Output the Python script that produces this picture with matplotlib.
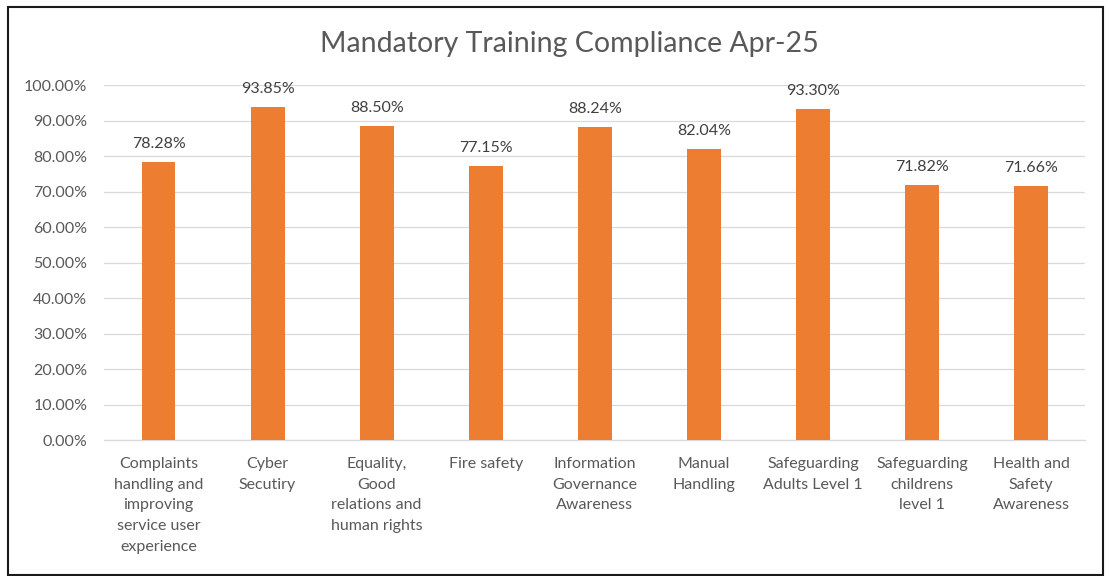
import matplotlib
matplotlib.use("Agg")
import matplotlib.pyplot as plt
from matplotlib.patches import Rectangle
from matplotlib.ticker import FuncFormatter

# =============================================================================
# DATA
# =============================================================================

categories = [
    "Complaints\nhandling and\nimproving\nservice user\nexperience",
    "Cyber\nSecutiry",
    "Equality,\nGood\nrelations and\nhuman rights",
    "Fire safety",
    "Information\nGovernance\nAwareness",
    "Manual\nHandling",
    "Safeguarding\nAdults Level 1",
    "Safeguarding\nchildrens\nlevel 1",
    "Health and\nSafety\nAwareness",
]
compliance = [0.7828, 0.9385, 0.8850, 0.7715, 0.8824, 0.8204, 0.9330, 0.7182, 0.7166]
yticks = [i / 10 for i in range(11)]

# =============================================================================
# STYLE
# =============================================================================

plt.rcParams["font.family"] = ["Lato", "DejaVu Sans"]
BAR_COLOR = "#ED7D31"
TEXT_COLOR = "#595959"
GRID_COLOR = "#D9D9D9"

fig = plt.figure(figsize=(11.09, 5.76), dpi=100)
ax = fig.add_axes([0.0938, 0.236, 0.885, 0.616])

x = list(range(len(categories)))
ax.bar(x, compliance, width=0.31, color=BAR_COLOR, zorder=3)

for xi, v in zip(x, compliance):
    ax.annotate(f"{v:.2%}", (xi, v), xytext=(0, 8), textcoords="offset points",
                ha="center", va="bottom", fontsize=11.5, color="#404040")

ax.set_xlim(-0.5, len(categories) - 0.5)
ax.set_ylim(0, 1.0)
ax.set_yticks(yticks)
ax.yaxis.set_major_formatter(FuncFormatter(lambda v, _: f"{v:.2%}"))
ax.set_xticks(x)
ax.set_xticklabels(categories, fontsize=11.5, color=TEXT_COLOR, linespacing=1.62, va="top")
ax.tick_params(axis="y", labelsize=11.5, labelcolor=TEXT_COLOR, length=0, pad=12)
ax.tick_params(axis="x", length=0, pad=12)

ax.grid(axis="y", color=GRID_COLOR, linewidth=0.9, zorder=0)
for side in ["top", "right", "left"]:
    ax.spines[side].set_visible(False)
ax.spines["bottom"].set_color(GRID_COLOR)
ax.spines["bottom"].set_linewidth(0.9)

fig.text(0.513, 0.923, "Mandatory Training Compliance Apr-25", ha="center", va="center",
         fontsize=20.5, color=TEXT_COLOR)

# chart frame
fig.patches.append(Rectangle((8 / 1109, 1 / 576), 1095 / 1109, 568 / 576,
                             transform=fig.transFigure, fill=False,
                             edgecolor="#1A1A1A", linewidth=1.5))

fig.savefig("out.png", dpi=100, facecolor="white")
